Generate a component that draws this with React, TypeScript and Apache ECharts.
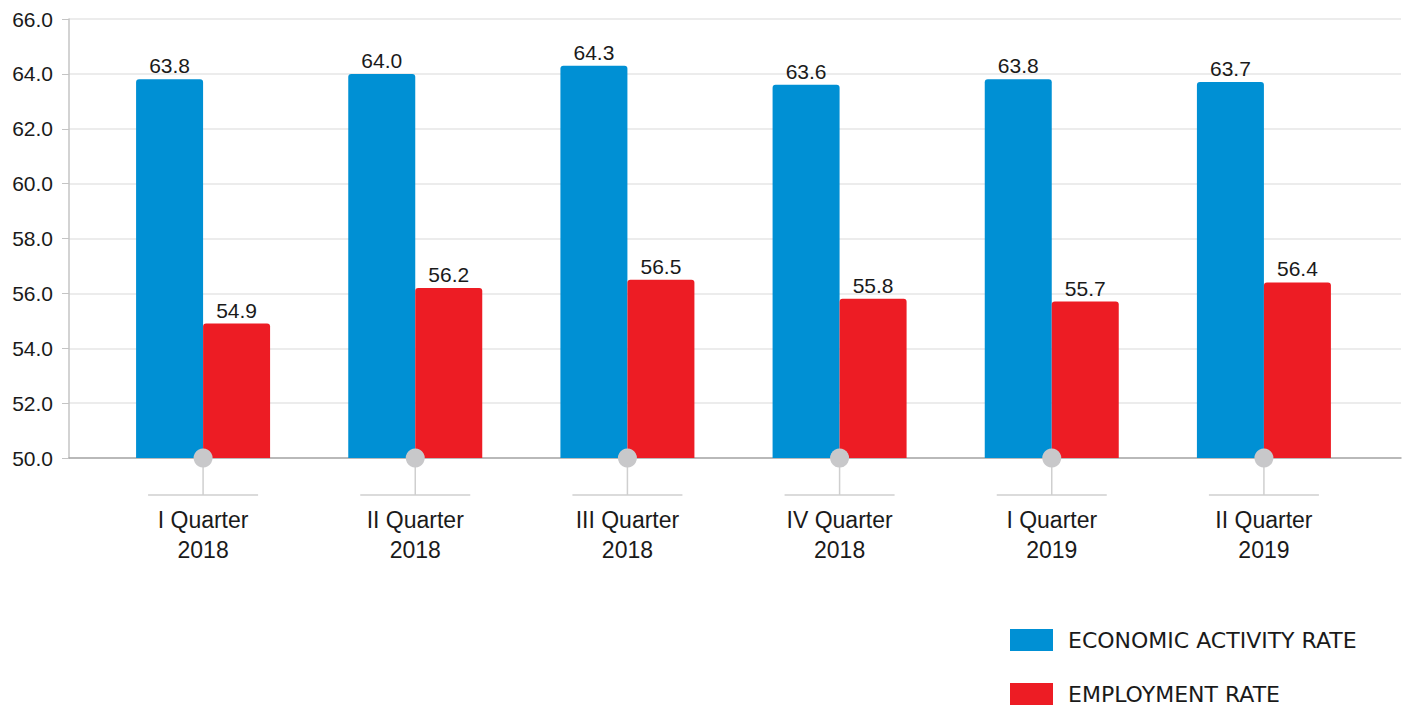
import React, { useEffect, useRef } from "react";
import * as echarts from "echarts";

const categories = [
  "I Quarter\n2018",
  "II Quarter\n2018",
  "III Quarter\n2018",
  "IV Quarter\n2018",
  "I Quarter\n2019",
  "II Quarter\n2019",
];
const seriesNames = ["ECONOMIC ACTIVITY RATE", "EMPLOYMENT RATE"];
const economicActivityRate = [63.8, 64.0, 64.3, 63.6, 63.8, 63.7];
const employmentRate = [54.9, 56.2, 56.5, 55.8, 55.7, 56.4];
const yMin = 50;
const yMax = 66;
const yInterval = 2;

export default function App() {
  const ref = useRef<HTMLDivElement>(null);
  useEffect(() => {
    document.body.style.margin = "0";
    const chart = echarts.init(ref.current!, null, { renderer: "svg" });
    const valueLabel = {
      show: true,
      position: "top",
      distance: 3,
      fontFamily: "Liberation Sans, Arial, sans-serif",
      fontSize: 21,
      color: "#1a1a1a",
      formatter: (p: any) => Number(p.value).toFixed(1),
    };
    const legendBase = {
      orient: "vertical",
      left: 1010,
      itemWidth: 43,
      itemHeight: 22,
      icon: "rect",
      selectedMode: false,
      padding: 0,
      textStyle: {
        fontFamily: "DejaVu Sans",
        fontSize: 22,
        color: "#1a1a1a",
        padding: [0, 0, 0, 10],
      },
    };
    chart.setOption({
      animation: false,
      legend: [
        { ...legendBase, top: 629, data: [seriesNames[0]] },
        { ...legendBase, top: 683, data: [seriesNames[1]] },
      ],
      grid: [
        { left: 69, right: 9, top: 19, bottom: 248 },
        { left: 97, width: 1273, top: 19, bottom: 248 },
      ],
      xAxis: [
        {
          gridIndex: 0,
          type: "category",
          data: categories,
          axisLine: { show: true, lineStyle: { color: "#a8a8a8", width: 1.5 } },
          axisTick: { show: false },
          axisLabel: { show: false },
        },
        {
          gridIndex: 1,
          type: "category",
          data: categories,
          axisLine: { show: false },
          axisTick: { show: false },
          axisLabel: {
            margin: 47,
            fontFamily: "Liberation Sans, Arial, sans-serif",
            fontSize: 23,
            lineHeight: 30,
            color: "#1a1a1a",
          },
        },
      ],
      yAxis: [
        {
          gridIndex: 0,
          type: "value",
          min: yMin,
          max: yMax,
          interval: yInterval,
          axisLine: { show: true, lineStyle: { color: "#c4c4c4", width: 1.5 } },
          axisTick: { show: true, length: 7, lineStyle: { color: "#c4c4c4" } },
          splitLine: { lineStyle: { color: "#e6e6e6", width: 1.5 } },
          axisLabel: {
            margin: 16,
            fontFamily: "Liberation Sans, Arial, sans-serif",
            fontSize: 21,
            color: "#1a1a1a",
            formatter: (v: number) => v.toFixed(1),
          },
        },
        {
          gridIndex: 1,
          type: "value",
          min: yMin,
          max: yMax,
          interval: yInterval,
          show: false,
          splitLine: { show: false },
        },
      ],
      series: [
        {
          name: seriesNames[0],
          type: "bar",
          xAxisIndex: 1,
          yAxisIndex: 1,
          data: economicActivityRate,
          barWidth: 67,
          barGap: "0%",
          itemStyle: { color: "#0090d4", borderRadius: [3, 3, 0, 0] },
          label: valueLabel,
        },
        {
          name: seriesNames[1],
          type: "bar",
          xAxisIndex: 1,
          yAxisIndex: 1,
          data: employmentRate,
          barWidth: 67,
          barGap: "0%",
          itemStyle: { color: "#ed1c24", borderRadius: [3, 3, 0, 0] },
          label: valueLabel,
        },
        {
          type: "custom",
          xAxisIndex: 1,
          yAxisIndex: 1,
          clip: false,
          silent: true,
          z: 10,
          data: categories.map((_, i) => [i, yMin]),
          renderItem: (params: any, api: any) => {
            const p = api.coord([api.value(0), api.value(1)]);
            const drop = 37;
            const half = 55;
            return {
              type: "group",
              children: [
                {
                  type: "line",
                  shape: { x1: p[0], y1: p[1], x2: p[0], y2: p[1] + drop },
                  style: { stroke: "#cfcfcf", lineWidth: 1.5 },
                },
                {
                  type: "line",
                  shape: { x1: p[0] - half, y1: p[1] + drop, x2: p[0] + half, y2: p[1] + drop },
                  style: { stroke: "#cfcfcf", lineWidth: 1.5 },
                },
                {
                  type: "circle",
                  shape: { cx: p[0], cy: p[1], r: 9.5 },
                  style: { fill: "#c8c8ca" },
                },
              ],
            };
          },
        },
      ],
    });
    return () => chart.dispose();
  }, []);
  return <div ref={ref} style={{ width: 1410, height: 706 }} />;
}
